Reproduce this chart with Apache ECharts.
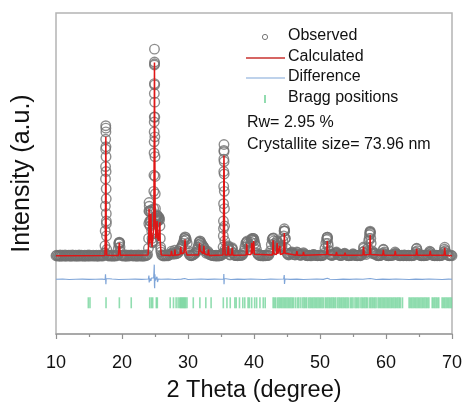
<!DOCTYPE html>
<html><head><meta charset="utf-8">
<script src="https://cdn.jsdelivr.net/npm/echarts@6/dist/echarts.min.js"></script>
<style>html,body{margin:0;padding:0;background:#fff;overflow:hidden}#c{width:100vw;height:100vh}</style>
</head><body><div id="c"></div>
<script>
// ---- data ----
const xTicks = [10, 20, 30, 40, 50, 60, 70];
const seriesNames = ['Observed', 'Calculated', 'Difference', 'Bragg positions'];
const infoLines = ['Rw= 2.95 %', 'Crystallite size= 73.96 nm'];

// observed intensity on a regular 0.125° scan grid starting at 10° (one row per degree)
const obsStart = 10, obsStep = 0.125;
const obsGrid = [
  300,325,285,315,290,330,280,310,   // 10
  320,285,305,330,280,315,295,325,   // 11
  290,320,280,310,330,285,315,295,   // 12
  325,280,310,290,330,300,285,320,   // 13
  295,315,280,325,300,285,320,290,   // 14
  330,300,285,315,295,320,290,310,   // 15
  285,320,300,280,325,295,310,290,   // 16
  315,290,320,400,3400,1700,340,300, // 17
  325,285,310,295,330,280,315,300,   // 18
  290,320,300,350,780,800,480,320,   // 19
  300,325,285,315,290,330,280,310,   // 20
  320,290,305,330,315,290,300,325,   // 21
  290,320,280,310,330,285,315,295,   // 22
  325,280,310,290,330,300,320,345,   // 23
  600,2300,1500,2100,1300,820,1200,5300, // 24
  4300,1750,1800,1900,1750,1820,1500,550, // 25
  340,300,320,290,310,330,295,320,   // 26
  300,330,340,380,480,420,380,360,   // 27
  520,450,380,400,420,480,560,600,   // 28
  650,720,800,900,1000,1040,950,800, // 29
  500,400,330,310,300,320,330,350,   // 30
  380,410,450,550,650,750,850,880,   // 31
  800,750,700,650,600,500,400,430,   // 32
  480,420,350,340,330,310,320,300,   // 33
  310,290,320,300,285,315,295,320,   // 34
  310,330,380,1400,2900,450,420,450, // 35
  600,650,350,330,500,580,560,400,   // 36
  330,310,305,320,300,315,310,330,   // 37
  315,320,330,400,500,650,800,850,   // 38
  900,800,650,700,850,950,950,1000,  // 39
  900,800,700,550,400,350,320,310,   // 40
  300,320,305,290,310,325,300,315,   // 41
  305,320,320,400,500,750,950,1000,  // 42
  900,800,700,750,850,800,700,650,   // 43
  600,650,700,900,1100,1300,1000,600, // 44
  400,350,330,360,380,420,450,400,   // 45
  350,340,330,380,450,420,350,330,   // 46
  320,330,330,370,420,380,330,320,   // 47
  310,300,305,320,310,295,315,330,   // 48
  350,340,320,310,310,300,305,320,   // 49
  310,300,305,320,320,400,600,800,   // 50
  950,1050,700,500,350,330,310,320,  // 51
  330,350,380,420,450,400,350,330,   // 52
  320,310,310,330,350,380,400,360,   // 53
  330,310,310,300,305,320,310,340,   // 54
  380,350,320,310,310,300,305,315,   // 55
  310,300,320,350,450,600,500,400,   // 56
  350,450,600,900,1150,1250,800,500, // 57
  380,400,420,380,330,320,310,300,   // 58
  305,310,320,360,400,540,450,380,   // 59
  330,310,310,300,305,320,310,320,   // 60
  315,340,380,450,400,360,330,320,   // 61
  310,300,305,320,310,300,330,320,   // 62
  310,300,305,320,300,310,310,300,   // 63
  305,320,320,380,450,580,500,400,   // 64
  350,320,310,300,305,320,300,310,   // 65
  310,320,320,350,420,480,450,380,   // 66
  330,310,310,300,305,320,300,310,   // 67
  310,300,305,320,320,380,450,560,   // 68
  500,420,350,320,310,300,305,320,   // 69
  300                                // 70
];
// extra observed points of the fine scan through the peaks [2θ, I]
const obsPeaks = [
  [17.38,420],[17.42,700],[17.45,1300],[17.48,2300],[17.51,3900],[17.52,4600],[17.53,5000],[17.54,5550],[17.555,5450],[17.56,5300],[17.57,4700],[17.58,4300],[17.59,3700],[17.60,3000],[17.61,2600],[17.62,2000],[17.63,1600],[17.65,1100],[17.69,550],
  [19.45,600],[19.55,830],[19.6,850],[19.65,820],[19.7,650],
  [24.03,1000],[24.06,1600],[24.08,2100],[24.1,2450],[24.15,2100],[24.2,1700],[24.3,1700],[24.35,2050],[24.4,2150],[24.45,1750],[24.55,1000],[24.6,850],[24.7,900],[24.78,1600],[24.8,2200],[24.82,2900],[24.84,3550],[24.86,4450],[24.87,4900],[24.88,5700],[24.89,5900],[24.9,6850],[24.91,7250],[24.915,8000],[24.92,8640],[24.93,8120],[24.94,8050],[24.95,7200],[24.96,6500],[24.97,5900],[24.98,5100],[25.02,3500],[25.04,2800],[25.07,2200],[25.1,1900],[25.15,1700],[25.2,1650],[25.3,1950],[25.35,1900],[25.45,1700],[25.55,1800],[25.6,1850],[25.7,1750],[25.8,1000],[25.85,650],[25.9,450],
  [29.45,1000],[29.55,1060],[29.65,950],[31.7,850],[31.8,900],[31.9,800],
  [35.28,400],[35.32,650],[35.35,1100],[35.37,1700],[35.39,2400],[35.41,3100],[35.42,3700],[35.43,4200],[35.44,4550],[35.45,4790],[35.46,4500],[35.47,4100],[35.48,3600],[35.52,2200],[35.54,1500],[35.57,900],[35.6,550],
  [36.05,650],[36.1,700],[36.15,550],[36.7,620],
  [38.9,850],[39.6,950],[39.7,1000],[39.9,1000],[40.0,950],
  [42.85,1000],[42.95,1020],[43.5,900],
  [44.55,1300],[44.6,1390],[44.65,1300],[44.7,1000],
  [51.05,1020],[51.1,1050],[51.15,980],[51.2,800],
  [56.6,650],[57.45,1000],[57.55,1250],[57.6,1290],[57.65,1200],[57.7,1000],
  [59.6,560],[64.65,600],[68.9,640]
];
// calculated profile [2θ, I]
const calc = [
  [10,300],[17.42,310],[17.49,1500],[17.53,4200],[17.55,5100],[17.57,4300],[17.61,1400],[17.68,320],
  [19.45,310],[19.55,700],[19.6,820],[19.66,650],[19.75,320],
  [23.95,330],[24.05,900],[24.1,2200],[24.15,1200],[24.25,800],[24.33,1600],[24.38,2000],[24.43,1300],[24.55,650],[24.7,600],[24.82,1500],[24.88,5000],[24.92,8100],[24.96,5500],[25.02,2000],[25.12,1000],[25.25,1400],[25.32,1700],[25.4,1000],[25.55,900],[25.68,1500],[25.74,1650],[25.8,800],[25.95,330],
  [27.4,310],[27.5,500],[27.6,310],[27.95,320],[28.02,550],[28.1,320],[28.8,350],[28.9,660],[29.0,380],[29.4,420],[29.55,950],[29.7,450],[29.85,330],
  [31.6,330],[31.75,800],[31.85,500],[32.3,380],[32.4,700],[32.5,380],[33.0,330],[33.1,550],[33.2,310],
  [35.3,330],[35.38,1500],[35.43,4000],[35.45,4350],[35.48,3800],[35.53,1300],[35.62,330],
  [36.0,330],[36.1,700],[36.2,330],[36.6,330],[36.7,620],[36.8,320],
  [38.8,330],[38.9,780],[39.0,350],[39.55,350],[39.65,820],[39.75,380],[39.85,400],[39.95,890],[40.05,360],
  [42.8,330],[42.9,920],[43.0,380],[43.4,350],[43.5,820],[43.6,380],[43.85,360],[43.92,690],[44.0,350],[44.5,400],[44.6,1220],[44.7,400],
  [46.4,320],[46.5,490],[46.6,320],[47.4,320],[47.5,450],[47.6,320],
  [51.0,350],[51.1,890],[51.2,350],
  [52.4,320],[52.5,450],[52.6,320],[53.7,320],[53.8,420],[53.9,320],[54.95,320],[55.05,400],[55.15,320],[56.5,330],[56.6,660],[56.7,330],
  [57.5,350],[57.6,1150],[57.7,350],
  [59.5,320],[59.6,540],[59.7,320],[61.3,320],[61.4,500],[61.5,320],[64.55,320],[64.65,580],[64.75,320],[66.6,320],[66.7,500],[66.8,320],[68.8,320],[68.9,620],[69.0,320],[70,300]
];
// difference curve (offset below the pattern) [2θ, I]
const diff = [
  [10,-650],[11,-640],[12,-660],[13,-650],[14,-645],[15,-655],[16,-650],[17,-645],[17.45,-660],[17.5,-450],[17.53,-380],[17.56,-850],[17.6,-620],[17.7,-650],
  [18.5,-640],[19.5,-660],[19.6,-600],[19.7,-650],[21,-650],[22,-645],[23,-655],
  [24.0,-640],[24.08,-500],[24.12,-780],[24.2,-620],[24.3,-560],[24.38,-720],[24.45,-600],[24.6,-650],[24.8,-600],[24.86,-250],[24.89,-60],[24.92,-900],[24.95,-1010],[24.98,-450],[25.05,-700],[25.2,-640],[25.3,-550],[25.38,-760],[25.5,-640],[25.7,-600],[25.78,-720],[25.9,-650],
  [27,-640],[28,-660],[29,-645],[29.5,-620],[30,-660],[31,-650],[32,-640],[33,-655],[34,-645],[35,-650],[35.4,-640],[35.43,-440],[35.46,-850],[35.5,-620],[35.6,-650],
  [36.5,-660],[37.5,-645],[38.5,-655],[39.5,-640],[40.5,-650],[41.5,-660],[42.5,-645],[43.5,-650],[44.5,-640],[44.58,-480],[44.62,-840],[44.7,-640],
  [45.5,-655],[46.5,-645],[47.5,-660],[48.5,-650],[49.5,-640],[50.5,-655],[51.1,-610],[51.5,-650],[52.5,-660],[53.5,-645],[54.5,-655],[55.5,-640],[56.5,-650],[57.6,-620],[58.5,-660],
  [59.5,-645],[60.5,-655],[61.5,-640],[62.5,-650],[63.5,-660],[64.5,-645],[65.5,-655],[66.5,-640],[67.5,-650],[68.5,-660],[69.5,-645],[70,-650]
];
// Bragg reflection positions (2θ)
const bragg = [
  14.9,15.15,17.58,19.6,21.4,24.2,24.45,24.65,25.2,25.35,27.3,27.8,28.2,28.5,28.75,28.9,29.05,29.2,29.35,29.5,29.65,29.85,
  30.8,31.8,32.7,33.5,35.35,35.9,36.4,37.1,37.3,37.8,38.3,38.6,39.1,39.3,39.65,40.1,40.4,40.9,41.4,41.7,
  42.9,43.1,43.3,43.6,43.8,44.0,44.2,44.4,44.6,44.8,45.0,45.2,45.4,45.6,45.8,46.0,46.3,46.6,46.8,47.1,47.4,47.6,47.8,48.0,48.3,48.5,48.7,48.9,
  49.1,49.3,49.5,49.7,49.9,50.1,50.3,50.5,50.8,51.0,51.2,51.4,51.6,51.8,52.0,52.2,52.4,52.7,52.9,53.1,53.3,53.5,53.7,53.9,54.1,54.3,54.6,54.8,
  55.0,55.3,55.5,55.7,55.9,56.2,56.4,56.6,56.8,57.0,57.2,57.5,57.7,57.9,58.1,58.3,58.5,58.8,59.0,59.2,59.4,59.6,59.8,60.0,60.2,60.4,60.6,60.8,
  61.0,61.2,61.4,61.6,61.8,62.0,62.2,62.5,63.5,63.7,63.9,64.1,64.3,64.5,64.7,64.9,65.1,65.3,65.5,65.7,65.9,66.1,66.3,66.5,
  67.0,67.2,67.4,67.6,67.8,68.0,68.5,68.7,68.9,69.1,69.3,69.5,69.7,69.9
];
const braggLevel = -1600;

// ---- build ----
const obsData = obsGrid.map((v, i) => [obsStart + obsStep * i, v]).concat(obsPeaks);
const braggData = bragg.map(x => [x, braggLevel]);
const FONT = '"Liberation Sans", Arial, sans-serif';
const chart = echarts.init(document.getElementById('c'), null, {renderer: 'canvas'});
const lx = 246, tx = 288;
chart.setOption({
  animation: false,
  backgroundColor: '#fff',
  grid: {left: 56, right: 14, top: 13, bottom: 71, show: true, borderColor: '#b4b4b4', borderWidth: 1.5},
  xAxis: {
    type: 'value', min: 10, max: 70, interval: 10,
    name: '2 Theta (degree)', nameLocation: 'middle', nameGap: 45,
    nameTextStyle: {fontSize: 23.5, color: '#111', fontFamily: FONT},
    axisLine: {show: true, onZero: false, lineStyle: {color: '#a0a0a0', width: 1.5}},
    axisTick: {show: true, inside: false, length: 5, lineStyle: {color: '#909090', width: 1.2}},
    minorTick: {show: true, splitNumber: 2, length: 3, lineStyle: {color: '#909090', width: 1.2}},
    axisLabel: {fontSize: 18, color: '#111', fontFamily: FONT, margin: 20, formatter: v => xTicks.includes(v) ? String(v) : ''},
    splitLine: {show: false}
  },
  yAxis: {
    type: 'value', min: -2860, max: 10100,
    name: 'Intensity (a.u.)', nameLocation: 'middle', nameGap: 21,
    nameTextStyle: {fontSize: 25, color: '#111', fontFamily: FONT},
    axisLine: {show: false}, axisTick: {show: false}, axisLabel: {show: false}, splitLine: {show: false}
  },
  series: [
    {name: seriesNames[0], type: 'scatter', data: obsData, symbol: 'circle', symbolSize: 9.5, z: 1,
     itemStyle: {color: 'rgba(0,0,0,0)', borderColor: '#707070', borderWidth: 1.4}},
    {name: seriesNames[1], type: 'line', data: calc, showSymbol: false, z: 3,
     lineStyle: {color: '#e01515', width: 1.5}},
    {name: seriesNames[2], type: 'line', data: diff, showSymbol: false, z: 2,
     lineStyle: {color: '#7fa5d8', width: 1.2}},
    {name: seriesNames[3], type: 'scatter', data: braggData, symbol: 'rect', symbolSize: [1.6, 11], z: 2,
     itemStyle: {color: '#76d49c'}}
  ],
  graphic: [
    {type: 'circle', shape: {cx: 265, cy: 37, r: 2.6}, style: {fill: 'none', stroke: '#777', lineWidth: 1}},
    {type: 'line', shape: {x1: lx, y1: 58, x2: 285, y2: 58}, style: {stroke: '#c8322f', lineWidth: 1.5}},
    {type: 'line', shape: {x1: lx, y1: 78, x2: 285, y2: 78}, style: {stroke: '#7fa5d8', lineWidth: 1.2}},
    {type: 'rect', shape: {x: 264.2, y: 95, width: 1.6, height: 8}, style: {fill: '#76d49c'}},
    {type: 'text', left: tx, top: 28, style: {text: seriesNames[0], font: '16px ' + FONT, fill: '#111'}},
    {type: 'text', left: tx, top: 49, style: {text: seriesNames[1], font: '16px ' + FONT, fill: '#111'}},
    {type: 'text', left: tx, top: 69, style: {text: seriesNames[2], font: '16px ' + FONT, fill: '#111'}},
    {type: 'text', left: tx, top: 90, style: {text: seriesNames[3], font: '16px ' + FONT, fill: '#111'}},
    {type: 'text', left: 247, top: 115, style: {text: infoLines[0], font: '16px ' + FONT, fill: '#111'}},
    {type: 'text', left: 247, top: 137, style: {text: infoLines[1], font: '16px ' + FONT, fill: '#111'}}
  ]
});
</script></body></html>
